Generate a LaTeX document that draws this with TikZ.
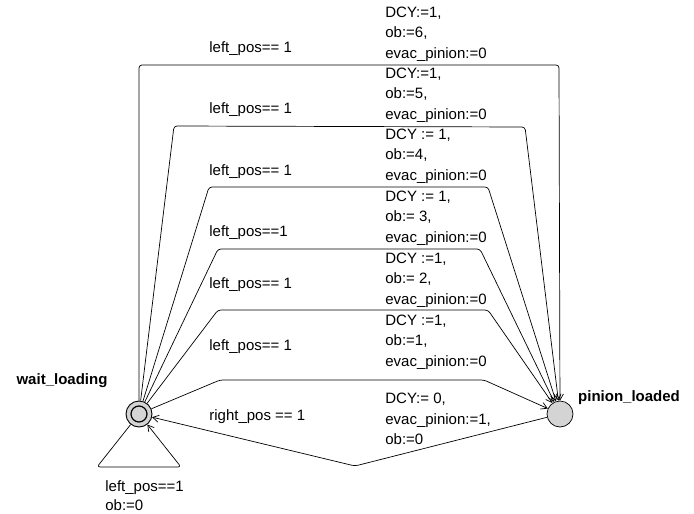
\documentclass[tikz,border=0pt]{standalone}
\usepackage{fontspec}
\setsansfont{Liberation Sans}
\usepackage{tikz}
\usetikzlibrary{arrows,arrows.meta,positioning}

\begin{document}
\begin{tikzpicture}[x=1pt,y=-1pt,>={Straight Barb[length=6pt,width=7pt]},line width=0.7pt,
  node distance=421pt,rounded corners=3pt,
  init node/.style={circle,fill=black!17,draw,line width=0.9pt,minimum size=26pt,inner sep=0pt},
  ring node/.style={circle,draw,line width=1.2pt,minimum size=16pt,inner sep=0pt},
  loc node/.style={circle,fill=black!17,draw,minimum size=26pt,inner sep=0pt},
  name text/.style={font=\sffamily\fontsize{15}{18}\selectfont\bfseries,inner sep=0pt},
  guard text/.style={font=\sffamily\fontsize{15}{18}\selectfont,anchor=west,inner sep=0pt},
  upd text/.style={font=\sffamily\fontsize{15}{20.5}\selectfont,anchor=west,align=left,inner sep=0pt},
  loop text/.style={font=\sffamily\fontsize{15}{19}\selectfont,anchor=west,align=left,inner sep=0pt}]
  \useasboundingbox (0,0) rectangle (694,514);
  \node[init node] (W) at (139,414) {};
  \node[ring node] (Wr) at (W) {};
  \node[loc node] (P) [right of=W] {};
  \node[name text] (wl) at (62,381) {wait\_loading};
  \node[name text] (pl) at (629,398) {pinion\_loaded};

  % loading edges, outermost first
  \draw[->] (W) -- (139,65) -- (559,65) -- (P);
  \draw[->] (W) -- (174,126) -- (525,127) -- (P);
  \draw[->] (W) -- (209,187) -- (488,187) -- (P);
  \draw[->] (W) -- (218,249) -- (480,249) -- (P);
  \draw[->] (W) -- (218,310) -- (488,310) -- (P);
  \draw[->] (W) -- (220,380) -- (484,380) -- (P);
  % back edge and self loop
  \draw[->] (P) -- (355,466) -- (W);
  \draw[->] (W) -- (97,467) -- (181,467) -- (W);

  \node[guard text] (g6) at (209,49) {left\_pos== 1};
  \node[guard text] (g5) at (209,110) {left\_pos== 1};
  \node[guard text] (g4) at (209,172) {left\_pos== 1};
  \node[guard text] (g3) at (209,233) {left\_pos==1};
  \node[guard text] (g2) at (209,285) {left\_pos== 1};
  \node[guard text] (g1) at (209,347) {left\_pos== 1};
  \node[guard text] (g0) at (209,417) {right\_pos == 1};

  \node[upd text] (u6) at (385,34) {DCY:=1,\\ob:=6,\\evac\_pinion:=0};
  \node[upd text] (u5) at (385,95) {DCY:=1,\\ob:=5,\\evac\_pinion:=0};
  \node[upd text] (u4) at (385,156) {DCY := 1,\\ob:=4,\\evac\_pinion:=0};
  \node[upd text] (u3) at (385,218) {DCY := 1,\\ob:= 3,\\evac\_pinion:=0};
  \node[upd text] (u2) at (385,280) {DCY :=1,\\ob:= 2,\\evac\_pinion:=0};
  \node[upd text] (u1) at (385,342) {DCY :=1,\\ob:=1,\\evac\_pinion:=0};
  \node[upd text] (u0) at (385,419) {DCY:= 0,\\evac\_pinion:=1,\\ob:=0};

  \node[loop text] (gl) at (105,496) {left\_pos==1\\ob:=0};
\end{tikzpicture}
\end{document}
